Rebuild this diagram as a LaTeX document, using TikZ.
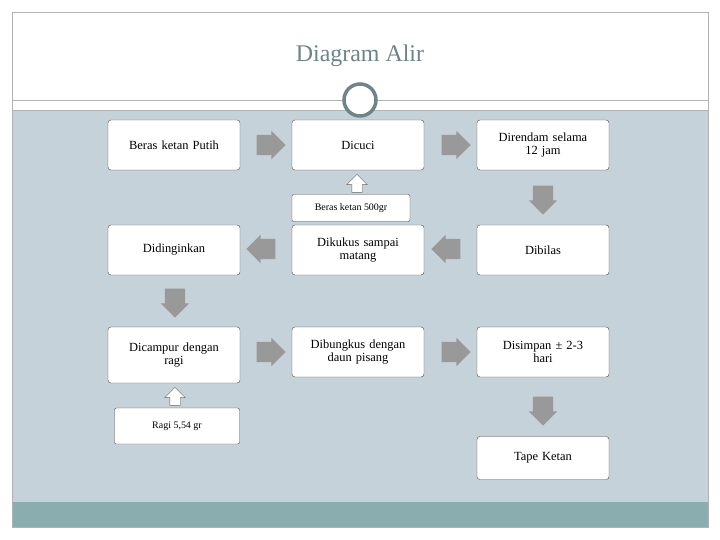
\documentclass[tikz,border=0pt]{standalone}
\usepackage{fontspec}
\setmainfont{Liberation Serif}
\usetikzlibrary{positioning}
\usetikzlibrary{shapes.arrows}
\definecolor{bgblue}{HTML}{C6D2D9}
\definecolor{barteal}{HTML}{8AAEB0}
\definecolor{titlegray}{HTML}{6E8487}
\tikzset{box/.style={draw=black!70,fill=white,rounded corners=3pt,minimum width=132bp,minimum height=50bp,align=center,text width=120bp,font=\fontsize{12.5}{13}\selectfont}}
\tikzset{ar/.style={single arrow,fill=black!40,draw=none,minimum height=29bp,single arrow head extend=4bp,inner xsep=0pt,inner ysep=10bp}}
\tikzset{up/.style={single arrow,fill=white,draw=black!60,minimum height=18bp,single arrow head extend=5bp,inner xsep=0pt,inner ysep=5bp,rotate=90}}
\tikzset{sm/.style={draw=black!70,fill=white,rounded corners=2pt,font=\fontsize{10}{10}\selectfont,inner sep=0pt}}

\begin{document}
\begin{tikzpicture}[x=1bp,y=-1bp]
    \useasboundingbox (0,0) rectangle (720,540);
    \fill[white] (0,0) rectangle (720,540);
    \draw[black!30,fill=bgblue] (12,110) rectangle (708,502);
    \fill[barteal] (12,502) rectangle (708,527);
    \draw[black!30] (12,12) rectangle (708,527);
    \draw[black!30] (12,100) -- (708,100);
    \node[font=\fontsize{24}{24}\selectfont,text=titlegray] (Title) at (360,56) {Diagram Alir};
    \draw[titlegray,line width=3.5pt,fill=white] (360,100) circle (16);
    % first row
    \node[box] (Beras) at (174,145) {Beras ketan Putih};
    \node[box] (Cuci) at (358,145) {Dicuci};
    \node[box] (Rendam) at (543,145) {Direndam selama\\12 jam};
    \node[ar] (A1) at (266,145) {};
    \node[ar] (A2) at (451,145) {};
    \node[ar,rotate=-90] (A3) at (543,195) {};
    \node[sm,minimum width=118bp,minimum height=27bp] (Bahan) at (351,208) {Beras ketan 500gr};
    \node[up] (U1) at (357,186) {};
    % second row
    \node[box] (Dingin) at (174,250) {Didinginkan};
    \node[box] (Kukus) at (358,250) {Dikukus sampai\\matang};
    \node[box] (Bilas) at (543,250) {Dibilas};
    \node[ar,rotate=180] (A4) at (266,249) {};
    \node[ar,rotate=180] (A5) at (451,249) {};
    \node[ar,rotate=-90] (A6) at (175,298) {};
    % third row
    \node[box,minimum height=56bp] (Campur) at (174,355) {Dicampur dengan\\ragi};
    \node[box] (Bungkus) at (358,352) {Dibungkus dengan\\daun pisang};
    \node[box] (Simpan) at (543,352) {Disimpan ± 2-3\\hari};
    \node[ar] (A7) at (266,352) {};
    \node[ar] (A8) at (451,352) {};
    \node[ar,rotate=-90] (A9) at (543,406) {};
    \node[sm,minimum width=125bp,minimum height=36bp] (Ragi) at (177,426) {Ragi 5,54 gr};
    \node[up] (U2) at (175,399) {};
    \node[box,minimum height=43bp] (Tape) at (543,458) {Tape Ketan};
\end{tikzpicture}
\end{document}
